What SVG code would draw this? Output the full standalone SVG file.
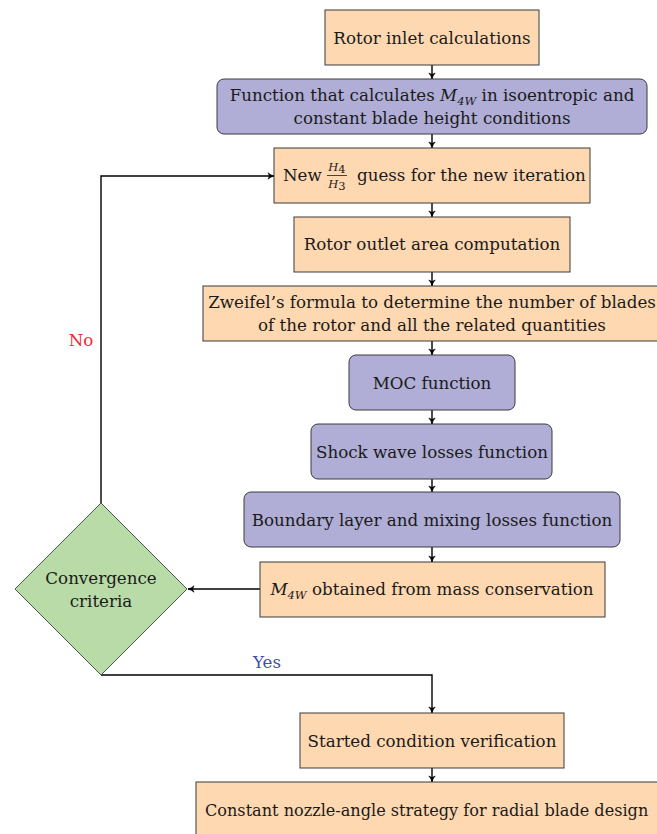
<svg xmlns="http://www.w3.org/2000/svg" width="657" height="834" viewBox="0 0 657 834">
<style>
.o{fill:#FED8B1;stroke:#3a3a3a;stroke-width:1}
.p{fill:#B0AED6;stroke:#3a3a3a;stroke-width:1}
.g{fill:#B9DBA8;stroke:#4a5a4a;stroke-width:1}
text{font-family:'DejaVu Serif',serif;font-size:16.7px;fill:#1a1a1a;text-anchor:middle}
.l{text-anchor:start}
.m{font-style:italic}
.s{font-size:11.5px}
.c line,.c path{stroke:#000;stroke-width:1.4;fill:none}
</style>
<defs>
<marker id="ah" markerWidth="8" markerHeight="8" refX="7" refY="4" orient="auto" markerUnits="userSpaceOnUse">
<path d="M1,0.8 Q3.5,3.2 7,4 Q3.5,4.8 1,7.2 L2.5,4 Z" fill="#000" stroke="#000" stroke-width="0.6"/>
</marker>
</defs>
<g id="connectors" class="c">
<line x1="432" y1="65" x2="432" y2="79" marker-end="url(#ah)"/>
<line x1="432" y1="134" x2="432" y2="148" marker-end="url(#ah)"/>
<line x1="432" y1="203" x2="432" y2="217" marker-end="url(#ah)"/>
<line x1="432" y1="272" x2="432" y2="286" marker-end="url(#ah)"/>
<line x1="432" y1="341" x2="432" y2="355" marker-end="url(#ah)"/>
<line x1="432" y1="410" x2="432" y2="424" marker-end="url(#ah)"/>
<line x1="432" y1="479" x2="432" y2="492" marker-end="url(#ah)"/>
<line x1="432" y1="547" x2="432" y2="562" marker-end="url(#ah)"/>
<line x1="260" y1="589" x2="188" y2="589" marker-end="url(#ah)"/>
<path d="M101,503 V176 H274" marker-end="url(#ah)"/>
<path d="M101,675 H432 V713" marker-end="url(#ah)"/>
<line x1="432" y1="768" x2="432" y2="782" marker-end="url(#ah)"/>
<text x="81" y="346" style="fill:#F0283A;stroke:none">No</text>
<text x="267" y="668" style="fill:#4050A8;stroke:none">Yes</text>
</g>
<g id="n1"><rect class="o" x="325" y="10" width="214" height="55"/><text x="432" y="44">Rotor inlet calculations</text></g>
<g id="n2"><rect class="p" x="217" y="79" width="430" height="55" rx="7"/><text x="432" y="101">Function that calculates <tspan class="m">M</tspan><tspan class="m s" dy="4">4W</tspan><tspan dy="-4"> in isoentropic and</tspan></text><text x="432" y="124">constant blade height conditions</text></g>
<g id="n3"><rect class="o" x="274" y="148" width="316" height="55"/><text x="283" y="181" class="l">New</text><text x="337" y="171" class="m s">H<tspan class="s" style="font-style:normal" dy="2">4</tspan></text><line x1="327" y1="175.5" x2="347" y2="175.5" stroke="#1a1a1a" stroke-width="0.8"/><text x="337" y="188" class="m s">H<tspan class="s" style="font-style:normal" dy="2">3</tspan></text><text x="357" y="181" class="l">guess for the new iteration</text></g>
<g id="n4"><rect class="o" x="294" y="217" width="276" height="55"/><text x="432" y="250">Rotor outlet area computation</text></g>
<g id="n5"><rect class="o" x="203" y="286" width="460" height="55"/><text x="432" y="308">Zweifel’s formula to determine the number of blades</text><text x="432" y="331">of the rotor and all the related quantities</text></g>
<g id="n6"><rect class="p" x="349" y="355" width="166" height="55" rx="7"/><text x="432" y="389">MOC function</text></g>
<g id="n7"><rect class="p" x="311" y="424" width="241" height="55" rx="7"/><text x="432" y="458">Shock wave losses function</text></g>
<g id="n8"><rect class="p" x="244" y="492" width="376" height="55" rx="7"/><text x="432" y="526">Boundary layer and mixing losses function</text></g>
<g id="n9"><rect class="o" x="260" y="562" width="345" height="55"/><text x="432" y="595"><tspan class="m">M</tspan><tspan class="m s" dy="4">4W</tspan><tspan dy="-4"> obtained from mass conservation</tspan></text></g>
<g id="n10"><polygon class="g" points="101,503 187,589 101,675 15,589"/><text x="101" y="584">Convergence</text><text x="101" y="607">criteria</text></g>
<g id="n11"><rect class="o" x="300" y="713" width="264" height="55"/><text x="432" y="747">Started condition verification</text></g>
<g id="n12"><rect class="o" x="196" y="782" width="472" height="60"/><text x="205" y="816" class="l" style="font-size:16.1px">Constant nozzle-angle strategy for radial blade design</text></g>
</svg>
